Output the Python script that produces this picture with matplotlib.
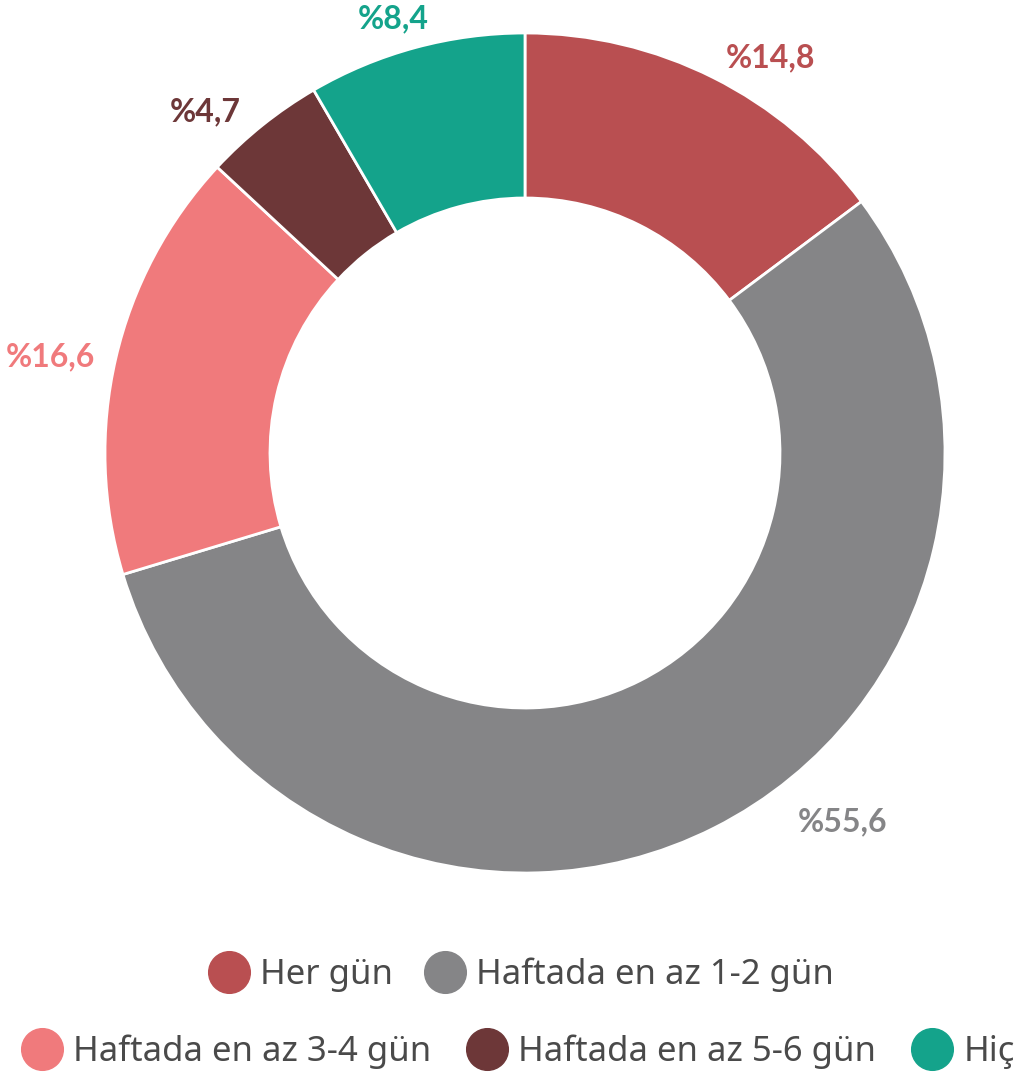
import numpy as np
import matplotlib
matplotlib.use('Agg')
import matplotlib.pyplot as plt
from matplotlib.lines import Line2D

matplotlib.rcParams['font.family'] = ['Noto Sans', 'DejaVu Sans']

# veriler
kategoriler = ['Her gün', 'Haftada en az 1-2 gün', 'Haftada en az 3-4 gün',
               'Haftada en az 5-6 gün', 'Hiç']
oranlar = [14.8, 55.6, 16.6, 4.7, 8.4]
etiketler = ['%14,8', '%55,6', '%16,6', '%4,7', '%8,4']
renkler = ['#b94f51', '#858587', '#f07a7c', '#6d3738', '#14a38b']

W, H = 1028, 1075
fig = plt.figure(figsize=(W / 100, H / 100), dpi=100)
ax = fig.add_axes([0, 0, 1, 1])

merkez = (525, H - 453)
R = 420
wedges, _ = ax.pie(oranlar, colors=renkler, startangle=90, counterclock=False,
                   center=merkez, radius=R, frame=True,
                   wedgeprops=dict(width=R - 255, edgecolor='white', linewidth=2))
ax.set_xlim(0, W)
ax.set_ylim(0, H)
ax.set_aspect('equal')
ax.axis('off')

# etiket kaydırmaları (piksel)
kaydir = [(-6, -18), (64, 44), (20, -8), (4, -20), (24, -12)]
for w, et, renk, (dx, dy) in zip(wedges, etiketler, renkler, kaydir):
    aci = np.deg2rad((w.theta1 + w.theta2) / 2)
    x = merkez[0] + 1.1 * R * np.cos(aci) + dx
    y = merkez[1] + 1.1 * R * np.sin(aci) + dy
    ha = 'left' if np.cos(aci) > 0 else 'right'
    ax.text(x, y, et, color=renk, fontsize=23, fontweight='bold', ha=ha, va='center',
            family=['Lato', 'DejaVu Sans'])

# lejant, iki satır
def handle(c):
    return Line2D([], [], marker='o', linestyle='none', markersize=30,
                  markerfacecolor=c, markeredgecolor=c)

ayar = dict(frameon=False, handlelength=1.2, handletextpad=0.3,
            borderpad=0, labelcolor='#4a4a4a',
            prop=dict(size=25), loc='center', bbox_transform=fig.transFigure)
leg1 = fig.legend([handle(c) for c in renkler[:2]], kategoriler[:2], ncol=2,
                  columnspacing=0.9, bbox_to_anchor=(521 / W, 1 - 975 / H), **ayar)
leg2 = fig.legend([handle(c) for c in renkler[2:]], kategoriler[2:], ncol=3,
                  columnspacing=1.0, bbox_to_anchor=(518 / W, 1 - 1052 / H), **ayar)

fig.savefig('out.png', dpi=100)
